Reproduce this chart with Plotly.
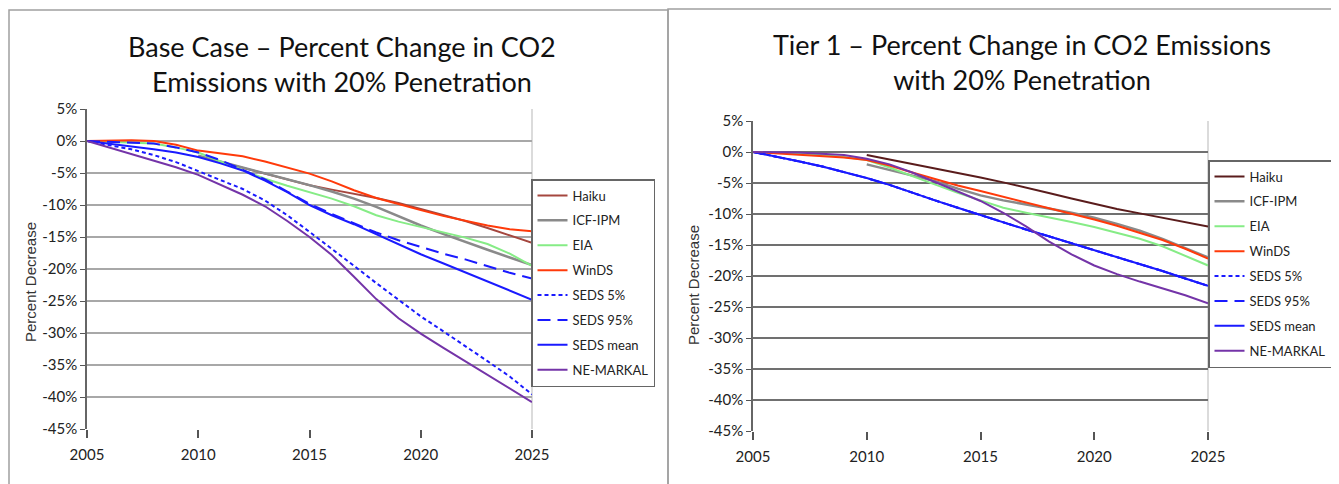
import plotly.graph_objects as go

years = list(range(2005, 2026))
series_names = ["Haiku", "ICF-IPM", "EIA", "WinDS", "SEDS 5%", "SEDS 95%", "SEDS mean", "NE-MARKAL"]
N = None

# Left chart: Base Case (percent change)
base_haiku = [N, N, N, N, N, -2.4, -3.3, -4.2, -5.1, -6.0, -6.9, -7.6, -8.2, -8.9, -9.7, -10.6, -11.5, -12.5, -13.6, -14.8, -15.9]
base_icf = [N, N, N, N, N, -2.3, -3.2, -4.2, -5.0, -5.9, -6.9, -7.9, -9.0, -10.3, -11.8, -13.2, -14.5, -15.8, -17.0, -18.2, -19.4]
base_eia = [0, -0.1, -0.2, -0.4, -1.0, -1.8, -3.2, -4.6, -5.9, -7.0, -8.0, -9.0, -10.2, -11.6, -12.6, -13.4, -14.2, -15.1, -16.1, -17.6, -19.5]
base_winds = [0, 0.05, 0.1, 0.0, -0.6, -1.5, -1.9, -2.4, -3.2, -4.1, -5.1, -6.3, -7.7, -8.9, -9.9, -10.8, -11.7, -12.5, -13.2, -13.8, -14.1]
base_seds5 = [0, -0.6, -1.3, -2.2, -3.3, -4.7, -6.1, -7.5, -9.3, -11.6, -14.2, -16.8, -19.5, -22.2, -24.8, -27.4, -29.7, -32.0, -34.4, -36.8, -39.6]
base_seds95 = [0, -0.1, -0.2, -0.4, -1.0, -1.8, -3.0, -4.5, -6.0, -7.9, -9.8, -11.4, -12.8, -14.3, -15.5, -16.6, -17.6, -18.5, -19.6, -20.6, -21.5]
base_sedsmean = [0, -0.4, -0.8, -1.3, -1.8, -2.5, -3.5, -4.6, -6.2, -8.0, -10.0, -11.6, -13.0, -14.6, -16.2, -17.7, -19.1, -20.5, -21.9, -23.3, -24.8]
base_nemarkal = [0, -1.0, -2.0, -3.0, -4.1, -5.3, -6.8, -8.4, -10.2, -12.5, -15.0, -17.8, -21.2, -24.7, -27.7, -30.1, -32.3, -34.4, -36.5, -38.6, -40.8]

# Right chart: Tier 1 (percent change)
tier_haiku = [N, N, N, N, N, -0.5, -1.2, -1.9, -2.6, -3.3, -4.1, -4.9, -5.7, -6.6, -7.5, -8.4, -9.2, -9.9, -10.6, -11.3, -12.0]
tier_icf = [N, N, N, N, N, -2.0, -2.9, -3.8, -4.7, -5.9, -7.0, -7.8, -8.4, -9.1, -9.8, -10.6, -11.6, -12.7, -14.0, -15.5, -17.0]
tier_eia = [0, -0.1, -0.2, -0.5, -0.8, -1.3, -2.5, -3.9, -5.3, -6.6, -7.8, -9.0, -9.8, -10.5, -11.3, -12.1, -13.0, -14.0, -15.2, -16.7, -18.3]
tier_winds = [0, -0.2, -0.4, -0.6, -0.9, -1.3, -2.2, -3.3, -4.4, -5.4, -6.3, -7.2, -8.1, -9.0, -9.9, -10.9, -11.9, -13.0, -14.2, -15.6, -17.2]
tier_seds5 = [0, -0.7, -1.5, -2.3, -3.2, -4.2, -5.3, -6.6, -7.8, -9.0, -10.2, -11.4, -12.5, -13.6, -14.7, -15.9, -17.0, -18.1, -19.2, -20.4, -21.6]
tier_seds95 = [0, -0.7, -1.5, -2.3, -3.2, -4.2, -5.3, -6.6, -7.8, -9.0, -10.2, -11.4, -12.5, -13.6, -14.7, -15.9, -17.0, -18.1, -19.2, -20.4, -21.6]
tier_sedsmean = [0, -0.7, -1.5, -2.3, -3.2, -4.2, -5.3, -6.6, -7.8, -9.0, -10.2, -11.4, -12.5, -13.6, -14.7, -15.9, -17.0, -18.1, -19.2, -20.4, -21.6]
tier_nemarkal = [0, -0.05, -0.1, -0.3, -0.5, -1.1, -2.0, -3.3, -4.8, -6.3, -7.9, -9.8, -12.0, -14.4, -16.5, -18.3, -19.7, -20.9, -22.0, -23.1, -24.4]

y_ticks = [5, 0, -5, -10, -15, -20, -25, -30, -35, -40, -45]
y_ticktext = ["5%", "0%", "-5%", "-10%", "-15%", "-20%", "-25%", "-30%", "-35%", "-40%", "-45%"]
x_ticks = [2005, 2010, 2015, 2020, 2025]

title_left = "Base Case – Percent Change in CO2<br>Emissions with 20% Penetration"
title_right = "Tier 1 – Percent Change in CO2 Emissions<br>with 20% Penetration"
y_title = "Percent Decrease"

W, H = 1339, 484
OFF = 8  # page body margin
FONT = "Lato"

styles_left = [
    dict(color="#a5473f", width=2, dash="solid"),
    dict(color="#8a8a8a", width=2.5, dash="solid"),
    dict(color="#86ec86", width=2, dash="solid"),
    dict(color="#ff3a0a", width=2, dash="solid"),
    dict(color="#1a1aff", width=2, dash="4px,3px"),
    dict(color="#1a1aff", width=2, dash="13px,7px"),
    dict(color="#1a1aff", width=2, dash="solid"),
    dict(color="#7434a8", width=2, dash="solid"),
]
styles_right = [dict(s) for s in styles_left]
styles_right[0]["color"] = "#5a1c1c"

left_data = [base_haiku, base_icf, base_eia, base_winds, base_seds5, base_seds95, base_sedsmean, base_nemarkal]
right_data = [tier_haiku, tier_icf, tier_eia, tier_winds, tier_seds5, tier_seds95, tier_sedsmean, tier_nemarkal]

fig = go.Figure()
for i, (name, vals) in enumerate(zip(series_names, left_data)):
    fig.add_trace(go.Scatter(x=years, y=vals, mode="lines", name=name, line=styles_left[i],
                             xaxis="x", yaxis="y", legend="legend", legendgroup="L" + str(i),
                             connectgaps=False, hoverinfo="skip"))
for i, (name, vals) in enumerate(zip(series_names, right_data)):
    fig.add_trace(go.Scatter(x=years, y=vals, mode="lines", name=name, line=styles_right[i],
                             xaxis="x2", yaxis="y2", legend="legend2", legendgroup="R" + str(i),
                             connectgaps=False, hoverinfo="skip"))

def px(v):
    return (v - OFF) / W

def py(v):
    return 1 - (v - OFF) / H

tickfont = dict(family=FONT, size=15, color="#222")

def xax(domain, anchor):
    return dict(domain=domain, anchor=anchor, range=[2005, 2025], tickvals=x_ticks,
                ticks="outside", ticklen=8, tickcolor="#555", tickwidth=1.5,
                showline=False, showgrid=False, zeroline=False, automargin=False,
                tickfont=tickfont, ticklabelstandoff=4)

def yax(domain, anchor, gridcolor, gridwidth):
    return dict(domain=domain, anchor=anchor, range=[-45, 5], tickvals=y_ticks, ticktext=y_ticktext,
                ticks="outside", ticklen=5, tickcolor="#555", showline=True, linecolor="#666",
                linewidth=1.5, showgrid=True, gridcolor=gridcolor, gridwidth=gridwidth,
                zeroline=False, tickfont=tickfont, automargin=False)

lx0, lx1, ly_top, ly_bot = 87, 532, 109, 429
rx0, rx1, ry_top, ry_bot = 753, 1208, 121, 431

legend_common = dict(xanchor="left", yanchor="top", bgcolor="white", bordercolor="#666",
                     borderwidth=1.5, font=dict(family=FONT, size=13, color="#222"),
                     tracegroupgap=5, itemwidth=30, itemclick=False, itemdoubleclick=False)

fig.update_layout(
    width=W, height=H, margin=dict(l=0, r=0, t=0, b=0, autoexpand=False),
    paper_bgcolor="white", plot_bgcolor="white",
    xaxis=xax([px(lx0), px(lx1)], "y"),
    yaxis=yax([py(ly_bot), py(ly_top)], "x", "#a8a8a8", 2),
    xaxis2=xax([px(rx0), px(rx1)], "y2"),
    yaxis2=yax([py(ry_bot), py(ry_top)], "x2", "#707070", 1.5),
    legend=dict(x=px(531), y=py(179), **legend_common),
    legend2=dict(x=px(1208), y=py(160), **legend_common),
    showlegend=True,
    annotations=[
        dict(text=title_left, x=px(342), y=py(64), xref="paper", yref="paper", showarrow=False,
             xanchor="center", yanchor="middle", font=dict(family=FONT, size=27, color="#111")),
        dict(text=title_right, x=px(1022), y=py(62), xref="paper", yref="paper", showarrow=False,
             xanchor="center", yanchor="middle", font=dict(family=FONT, size=27, color="#111")),
        dict(text=y_title, x=px(30), y=py(282), xref="paper", yref="paper", showarrow=False,
             textangle=-90, xanchor="center", yanchor="middle",
             font=dict(family="Liberation Sans", size=15, color="#333")),
        dict(text=y_title, x=px(693), y=py(285), xref="paper", yref="paper", showarrow=False,
             textangle=-90, xanchor="center", yanchor="middle",
             font=dict(family="Liberation Sans", size=15, color="#333")),
    ],
    shapes=[
        dict(type="rect", xref="paper", yref="paper", x0=px(9), x1=px(668), y0=-0.2, y1=py(10),
             line=dict(color="#a0a0a0", width=1.5), layer="below"),
        dict(type="rect", xref="paper", yref="paper", x0=px(668), x1=1.2, y0=-0.2, y1=py(9),
             line=dict(color="#a0a0a0", width=1.5), layer="below"),
        dict(type="line", xref="paper", yref="paper", x0=px(lx1), x1=px(lx1), y0=py(ly_bot), y1=py(ly_top),
             line=dict(color="#cfcfcf", width=1.5), layer="below"),
        dict(type="line", xref="paper", yref="paper", x0=px(rx1), x1=px(rx1), y0=py(ry_bot), y1=py(ry_top),
             line=dict(color="#cfcfcf", width=1.5), layer="below"),
    ],
)

fig.write_html("out.html", config=dict(displayModeBar=False))
